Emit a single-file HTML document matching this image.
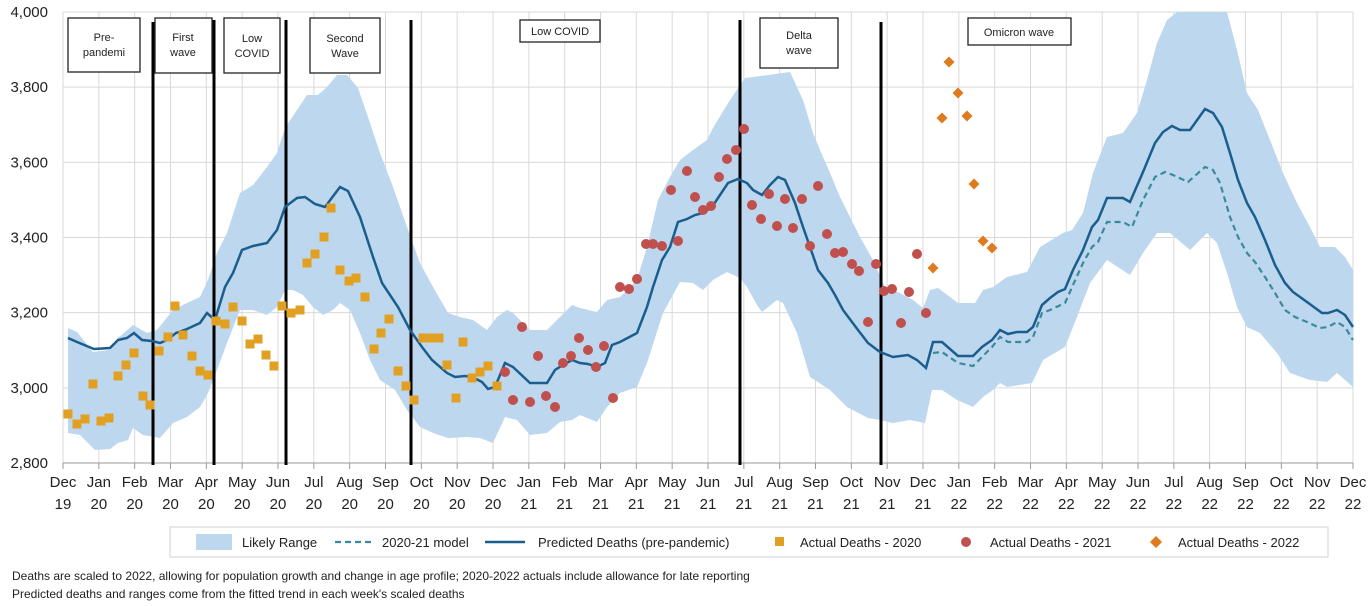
<!DOCTYPE html>
<html><head><meta charset="utf-8"><style>
html,body{margin:0;padding:0;background:#fff;width:1371px;height:606px;overflow:hidden;font-family:"Liberation Sans",sans-serif}
svg{position:absolute;left:0;top:0}
</style></head><body>
<svg id="s" width="1371" height="606" xmlns="http://www.w3.org/2000/svg" font-family="Liberation Sans, sans-serif">
<g id="grid" stroke="#d9d9d9" stroke-width="1"></g>
<polygon fill="#bdd7ee" points="68,328 77,332 93,352 110,350 118,338 133,325 147,333 157,330 173,310 187,303 200,297 208,280 217,253 227,233 240,193 253,185 267,167 277,153 285,128 297,110 307,95 318,95 327,87 337,75 347,75 358,88 368,117 380,153 393,187 407,227 420,263 433,287 448,313 460,317 473,320 487,330 497,317 507,310 513,313 530,330 547,330 560,317 572,305 580,308 597,312 607,300 620,297 637,280 647,247 658,200 670,177 680,160 693,150 707,140 713,128 722,113 730,100 745,78 768,75 790,72 803,100 813,133 820,150 830,173 840,197 850,217 860,237 873,260 885,287 900,293 913,300 923,308 930,290 938,288 958,303 975,303 983,290 993,287 1007,277 1027,272 1040,247 1063,233 1072,230 1083,213 1093,173 1107,137 1123,133 1137,113 1147,80 1157,43 1167,20 1177,12 1227,12 1237,50 1247,93 1258,110 1270,140 1283,173 1297,203 1310,227 1320,247 1335,247 1345,257 1353,270 1353,387 1337,373 1327,382 1310,380 1290,373 1277,353 1260,333 1247,327 1237,307 1227,273 1217,243 1207,233 1190,250 1170,233 1157,233 1143,253 1130,275 1107,260 1090,283 1077,317 1065,347 1043,360 1032,383 1007,387 1000,383 993,390 983,397 973,407 957,400 942,390 932,390 925,423 910,420 893,423 880,420 868,418 847,407 830,390 810,377 797,333 783,303 777,300 762,312 757,305 747,287 740,278 727,272 713,280 703,290 693,283 680,282 663,313 647,363 637,387 620,393 607,407 597,422 580,415 572,420 560,422 547,433 530,435 517,420 505,417 493,443 480,438 467,437 448,438 433,433 420,427 407,410 395,390 380,380 370,360 360,333 350,310 340,303 333,310 323,315 313,307 303,295 293,290 285,290 277,307 267,315 253,310 240,310 227,343 217,370 208,393 200,407 187,417 173,423 160,438 155,437 143,435 133,428 128,440 118,443 110,449 95,450 80,435 68,433"/>
<g stroke="#000" stroke-width="3">
<line x1="153" y1="22" x2="153" y2="465"/><line x1="214" y1="20" x2="214" y2="465"/><line x1="286" y1="20" x2="286" y2="465"/><line x1="411" y1="20" x2="411" y2="465"/><line x1="740" y1="20" x2="740" y2="465"/><line x1="881" y1="22" x2="881" y2="465"/>
</g>
<polyline fill="none" stroke="#3a8a9c" stroke-width="2.2" stroke-dasharray="6,4" points="933,353 942,352 958,363 973,366 982,357 992,347 1000,337 1008,342 1027,342 1033,337 1042,313 1050,310 1065,303 1073,285 1083,263 1092,247 1098,242 1107,222 1123,222 1132,227 1143,200 1155,177 1165,172 1173,175 1188,182 1205,167 1213,170 1220,183 1230,217 1238,237 1247,253 1255,262 1265,277 1275,293 1285,310 1295,317 1307,322 1320,328 1328,327 1337,322 1345,327 1353,340"/>
<polyline fill="none" stroke="#1b5e8e" stroke-width="2.5" points="68,338 77,342 94,349 110,348 118,340 127,338 134,333 142,340 152,341 160,343 167,340 176,333 187,329 200,323 207,313 215,320 225,287 233,273 242,250 253,246 267,243 277,230 285,207 297,198 305,197 315,204 325,207 340,187 348,191 360,217 373,257 382,283 398,307 410,330 422,347 432,360 447,373 455,377 465,376 472,377 482,382 488,389 495,387 505,363 513,367 530,383 547,383 555,370 563,365 572,360 580,363 588,364 597,367 605,363 612,345 620,342 637,333 647,307 653,287 662,260 670,247 678,222 687,219 695,215 703,213 712,207 720,195 728,183 738,179 747,183 753,190 762,195 770,185 778,177 785,180 795,203 803,227 810,247 818,270 828,283 835,295 843,310 858,330 868,343 880,352 893,357 908,355 917,360 926,368 933,342 942,342 958,356 973,356 982,347 992,340 1000,330 1008,334 1017,332 1027,332 1033,327 1042,305 1050,298 1058,292 1065,289 1073,270 1083,250 1092,227 1098,220 1107,198 1123,198 1130,202 1143,172 1155,143 1163,132 1172,126 1180,130 1190,130 1205,109 1213,113 1222,127 1230,153 1238,180 1247,203 1255,217 1265,240 1275,265 1285,283 1293,292 1307,302 1322,313 1328,313 1337,310 1345,315 1353,327"/>
<g id="mk"></g>
<g fill="#fff" stroke="#222" stroke-width="1.3">
<rect x="68" y="18" width="72" height="54"/><rect x="155" y="18" width="57" height="55"/><rect x="224" y="18" width="56" height="55"/><rect x="310" y="18" width="70" height="55"/><rect x="520" y="20" width="80" height="22"/><rect x="760" y="18" width="78" height="50"/><rect x="968" y="18" width="103" height="27"/>
</g>
<g font-size="11" fill="#222" text-anchor="middle">
<text x="104" y="41">Pre-</text><text x="104" y="56">pandemi</text>
<text x="183" y="41">First</text><text x="183" y="56">wave</text>
<text x="252" y="42">Low</text><text x="252" y="57">COVID</text>
<text x="345" y="42">Second</text><text x="345" y="57">Wave</text>
<text x="560" y="35">Low COVID</text>
<text x="799" y="39">Delta</text><text x="799" y="54">wave</text>
<text x="1019" y="36">Omicron wave</text>
</g>
<g id="ax" font-size="15" fill="#222"></g>
<rect x="170" y="527" width="1158" height="30" fill="#fff" stroke="#d0d0d0"/>
<rect x="196" y="534" width="36" height="16" fill="#bdd7ee"/>
<line x1="335" y1="542" x2="372" y2="542" stroke="#3a8a9c" stroke-width="2.2" stroke-dasharray="6,4"/>
<line x1="485" y1="542" x2="525" y2="542" stroke="#1b5e8e" stroke-width="2.5"/>
<rect x="775" y="537" width="9" height="9" fill="#e2a022"/>
<circle cx="966" cy="542" r="5" fill="#c0504d"/>
<polygon points="1156,536 1162,542 1156,548 1150,542" fill="#e07a1f"/>
<g font-size="13" fill="#222">
<text x="242" y="547">Likely Range</text><text x="382" y="547">2020-21 model</text><text x="538" y="547">Predicted Deaths (pre-pandemic)</text><text x="800" y="547">Actual Deaths - 2020</text><text x="990" y="547">Actual Deaths - 2021</text><text x="1178" y="547">Actual Deaths - 2022</text>
</g>
<g font-size="12" fill="#222">
<text x="12" y="580">Deaths are scaled to 2022,  allowing for population growth and change in age profile; 2020-2022  actuals include allowance for late reporting</text>
<text x="12" y="598">Predicted deaths and ranges come from the fitted trend in each week's scaled deaths</text>
</g>
</svg>
<script>
var NS="http://www.w3.org/2000/svg";
function el(p,t,a,txt){var e=document.createElementNS(NS,t);for(var k in a)e.setAttribute(k,a[k]);if(txt!=null)e.textContent=txt;document.getElementById(p).appendChild(e);return e;}
var x0=63,x1=1353,dx=(x1-x0)/36;
for(var v=0;v<=6;v++){var y=463-v*75.17;el("grid","line",{x1:x0,y1:y,x2:x1,y2:y});
el("ax","text",{x:48,y:y+5,"text-anchor":"end"},(2800+v*200).toLocaleString("en-US"));}
var M=["Dec","Jan","Feb","Mar","Apr","May","Jun","Jul","Aug","Sep","Oct","Nov"];
for(var i=0;i<=36;i++){var x=x0+i*dx;el("grid","line",{x1:x,y1:12,x2:x,y2:463});
el("grid","line",{x1:x,y1:463,x2:x,y2:469,stroke:"#999"});
var yr=19+Math.floor((i+11)/12);
el("ax","text",{x:x,y:487,"text-anchor":"middle"},M[i%12]);
el("ax","text",{x:x,y:509,"text-anchor":"middle"},String(yr));}
el("grid","line",{x1:x0,y1:463,x2:x1,y2:463,stroke:"#999"});
var sq=[[68,414],[77,424],[85,419],[93,384],[101,421],[109,418],[118,376],[126,365],[134,353],[143,396],[150,405],[159,351],[168,337],[175,306],[183,335],[192,356],[200,371],[208,375],[216,321],[225,324],[233,307],[242,321],[250,344],[258,339],[266,355],[274,366],[282,306],[291,313],[300,310],[307,263],[315,254],[324,237],[331,208],[340,270],[349,281],[356,278],[365,297],[374,349],[381,333],[389,319],[398,371],[406,386],[414,400],[423,338],[431,338],[439,338],[447,365],[456,398],[463,342],[472,378],[480,372],[488,366],[497,386]];
sq.forEach(function(p){el("mk","rect",{x:p[0]-4.5,y:p[1]-4.5,width:9,height:9,fill:"#e2a022"});});
var ci=[[505,372],[513,400],[522,327],[530,402],[538,356],[546,396],[555,407],[563,363],[571,356],[579,338],[588,350],[596,367],[604,346],[613,398],[620,287],[629,289],[637,279],[646,244],[653,244],[662,246],[671,190],[678,241],[687,171],[695,197],[703,210],[711,206],[719,177],[727,159],[736,150],[744,129],[752,205],[761,219],[769,194],[777,226],[785,199],[793,228],[802,199],[810,246],[818,186],[827,234],[835,253],[843,252],[852,264],[859,271],[868,322],[876,264],[884,291],[892,289],[901,323],[909,292],[917,254],[926,313]];
ci.forEach(function(p){el("mk","circle",{cx:p[0],cy:p[1],r:5,fill:"#c0504d"});});
var di=[[933,268],[942,118],[949,62],[958,93],[967,116],[974,184],[983,241],[992,248]];
di.forEach(function(p){var x=p[0],y=p[1];el("mk","polygon",{points:x+","+(y-5.5)+" "+(x+5.5)+","+y+" "+x+","+(y+5.5)+" "+(x-5.5)+","+y,fill:"#e07a1f"});});
</script>
</body></html>
